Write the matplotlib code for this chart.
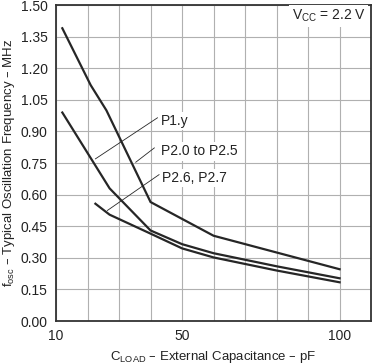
import matplotlib
matplotlib.use("Agg")
import matplotlib.pyplot as plt

plt.rcParams["font.family"] = ["Liberation Sans", "DejaVu Sans"]
plt.rcParams["mathtext.default"] = "regular"

# P2.0 to P2.5 (top curve)
c_p20 = [12, 21, 26, 40, 60, 100]
f_p20 = [1.39, 1.12, 1.00, 0.565, 0.405, 0.246]

# P1.y (middle curve)
c_p1 = [12, 27, 40, 50, 60, 80, 100]
f_p1 = [0.99, 0.63, 0.43, 0.365, 0.322, 0.26, 0.203]

# P2.6, P2.7 (bottom curve)
c_p26 = [22.5, 27, 40, 50, 60, 80, 100]
f_p26 = [0.557, 0.505, 0.415, 0.345, 0.302, 0.24, 0.184]

labels = ["P1.y", "P2.0 to P2.5", "P2.6, P2.7"]
label_pos = [(43.3, 0.948), (43.3, 0.805), (43.6, 0.68)]
leader_from = [(22.5, 0.77), (35.3, 0.754), (26.3, 0.525)]
leader_to = [(42.2, 0.965), (41.2, 0.822), (42.7, 0.695)]

fig = plt.figure(figsize=(3.76, 3.64), dpi=100)
ax = fig.add_axes([0.149, 0.118, 0.838, 0.868])

line_kw = dict(color="#262626", lw=1.6, solid_joinstyle="miter", zorder=3)
ax.plot(c_p20, f_p20, **line_kw)
ax.plot(c_p1, f_p1, **line_kw)
ax.plot(c_p26, f_p26, **line_kw)

for (x0, y0), (x1, y1) in zip(leader_from, leader_to):
    ax.plot([x0, x1], [y0, y1], color="#262626", lw=0.6, zorder=4)

for txt, (x, y) in zip(labels, label_pos):
    ax.text(x, y, txt, fontsize=10, va="center", ha="left", color="#222222",
            bbox=dict(facecolor="white", edgecolor="none", pad=1.5), zorder=5)

ax.text(96.5, 1.45, r"V$_{CC}$ = 2.2 V", fontsize=10, va="center", ha="center",
        color="#222222", bbox=dict(facecolor="white", edgecolor="none", pad=2),
        zorder=5)

ax.set_xlim(10, 110)
ax.set_ylim(0, 1.5)
ax.set_xticks(range(10, 111, 10))
ax.set_xticklabels(["10", "", "", "", "50", "", "", "", "", "100", ""])
yt = [i * 0.15 for i in range(11)]
ax.set_yticks(yt)
ax.set_yticklabels(["%.2f" % v for v in yt])
ax.tick_params(length=0, labelsize=10, colors="#222222", pad=6)
ax.grid(True, color="#b0b0b0", lw=0.8, zorder=0)
for s in ax.spines.values():
    s.set_color("#333333")
    s.set_linewidth(1.3)

ax.set_xlabel(r"C$_{LOAD}$ – External Capacitance – pF", fontsize=9.5,
              color="#222222", labelpad=4)
ax.set_ylabel(r"f$_{osc}$ – Typical Oscillation Frequency – MHz", fontsize=9.5,
              color="#222222", labelpad=3)

fig.savefig("out.png", dpi=100)
